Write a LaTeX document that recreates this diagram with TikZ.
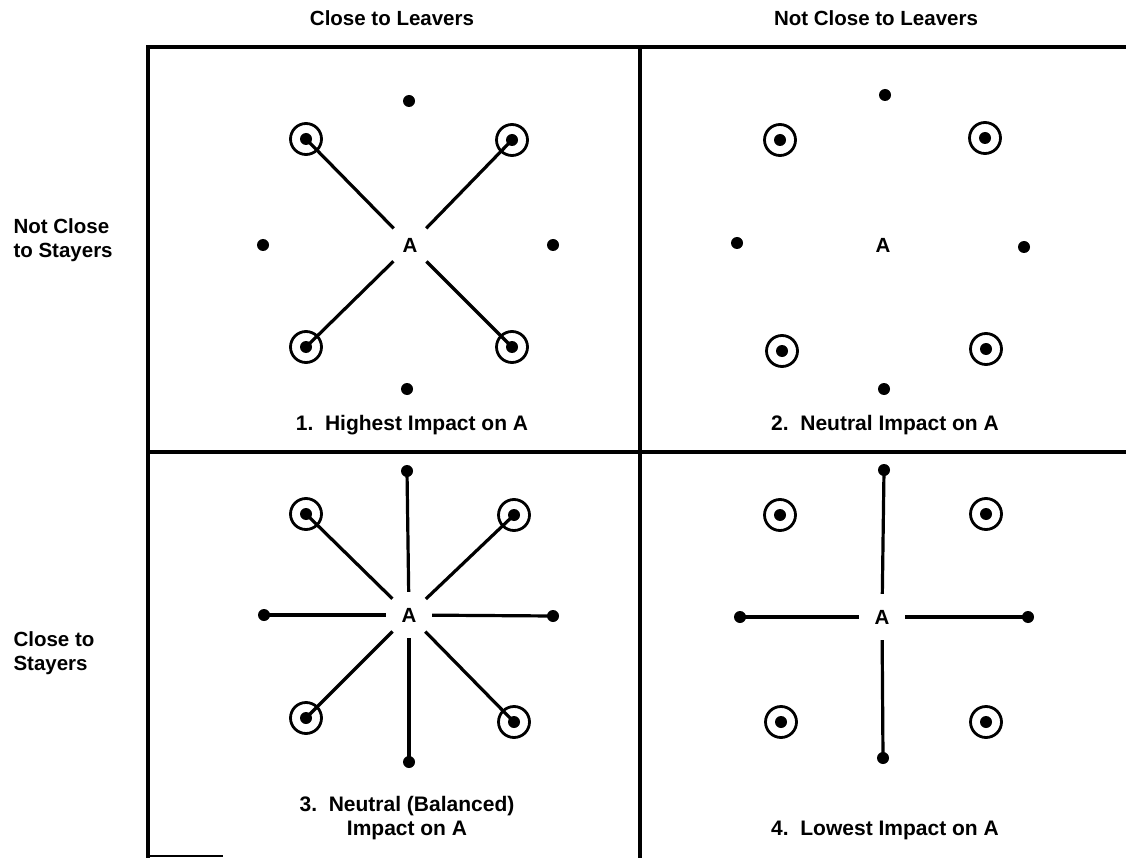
\documentclass[tikz,border=0pt]{standalone}
\usepackage{fontspec}
\setmainfont{Liberation Sans}
\begin{document}
\begin{tikzpicture}[x=1pt,y=-1pt,
  gridline/.style={line width=3.4pt},
  link/.style={line width=3.2pt},
  dotnode/.style={circle,fill=black,inner sep=0pt,minimum size=12pt},
  ringnode/.style={circle,draw=black,line width=2.8pt,inner sep=0pt,minimum size=31pt},
  centernode/.style={circle,inner sep=0pt,minimum size=46pt,font=\fontsize{20.5}{24}\selectfont\bfseries},
  label/.style={font=\fontsize{21}{24}\selectfont\bfseries,align=center},
  sidelabel/.style={font=\fontsize{20.5}{23.5}\selectfont\bfseries,align=left,anchor=west},
  hdr/.style={font=\fontsize{20.5}{24}\selectfont\bfseries}
]
\useasboundingbox (0,0) rectangle (1126,858);
% grid
\coordinate (gTL) at (148,47);
\coordinate (gTR) at (1126,47);
\coordinate (gBL) at (148,858);
\coordinate (gMT) at (640,47);
\coordinate (gMB) at (640,858);
\coordinate (gML) at (148,452);
\coordinate (gMR) at (1126,452);
\coordinate (gBS) at (148,856);
\coordinate (gBE) at (223,856);
\draw[gridline] (gBL) -- (gTL) -- (gTR);
\draw[gridline] (gMT) -- (gMB);
\draw[gridline] (gML) -- (gMR);
\draw[line width=1.5pt] (gBS) -- (gBE);
% headers
\node[hdr] (h1) at (392,18) {Close to Leavers};
\node[hdr] (h2) at (876,18) {Not Close to Leavers};
\node[sidelabel] (r1) at (10,240) {Not Close\\to Stayers};
\node[sidelabel] (r2) at (10,653) {Close to\\Stayers};

% ---------- Panel 1 ----------
\node[centernode] (A1) at (410,245) {A};
\node[dotnode] (p1t) at (409,101) {};
\node[dotnode] (p1b) at (407,389) {};
\node[dotnode] (p1l) at (263,245) {};
\node[dotnode] (p1r) at (553,245) {};
\foreach \n/\x/\y in {ul/306/139,ur/512/140,ll/306/347,lr/512/347}{
  \node[ringnode] (p1\n o) at (\x,\y) {};
  \node[dotnode] (p1\n) at (\x,\y) {};
}
\draw[link] (p1ul.center) -- (A1);
\draw[link] (p1ur.center) -- (A1);
\draw[link] (p1ll.center) -- (A1);
\draw[link] (p1lr.center) -- (A1);
\node[label] (c1) at (412,425) {1.\ \ Highest Impact on A};

% ---------- Panel 2 ----------
\node[centernode] (A2) at (883,245) {A};
\node[dotnode] (p2t) at (885,95) {};
\node[dotnode] (p2b) at (884,389) {};
\node[dotnode] (p2l) at (737,243) {};
\node[dotnode] (p2r) at (1024,247) {};
\foreach \n/\x/\y in {ul/780/140,ur/985/138,ll/782/351,lr/986/349}{
  \node[ringnode] (p2\n o) at (\x,\y) {};
  \node[dotnode] (p2\n) at (\x,\y) {};
}
\node[label] (c2) at (885,425) {2.\ \ Neutral Impact on A};

% ---------- Panel 3 ----------
\node[centernode] (A3) at (409,615) {A};
\node[dotnode] (p3t) at (407,471) {};
\node[dotnode] (p3b) at (409,762) {};
\node[dotnode] (p3l) at (264,615) {};
\node[dotnode] (p3r) at (553,616) {};
\foreach \n/\x/\y in {ul/306/514,ur/514/515,ll/306/718,lr/514/722}{
  \node[ringnode] (p3\n o) at (\x,\y) {};
  \node[dotnode] (p3\n) at (\x,\y) {};
}
\foreach \n in {t,b,l,r,ul,ur,ll,lr}{
  \draw[link] (p3\n.center) -- (A3);
}
\node[label] (c3) at (407,818) {3.\ \ Neutral (Balanced)\\Impact on A};

% ---------- Panel 4 ----------
\node[centernode] (A4) at (882,617) {A};
\node[dotnode] (p4t) at (884,470) {};
\node[dotnode] (p4b) at (883,758) {};
\node[dotnode] (p4l) at (740,617) {};
\node[dotnode] (p4r) at (1028,617) {};
\foreach \n/\x/\y in {ul/780/515,ur/986/514,ll/781/722,lr/986/722}{
  \node[ringnode] (p4\n o) at (\x,\y) {};
  \node[dotnode] (p4\n) at (\x,\y) {};
}
\foreach \n in {t,b,l,r}{
  \draw[link] (p4\n.center) -- (A4);
}
\node[label] (c4) at (885,830) {4.\ \ Lowest Impact on A};
\end{tikzpicture}
\end{document}
